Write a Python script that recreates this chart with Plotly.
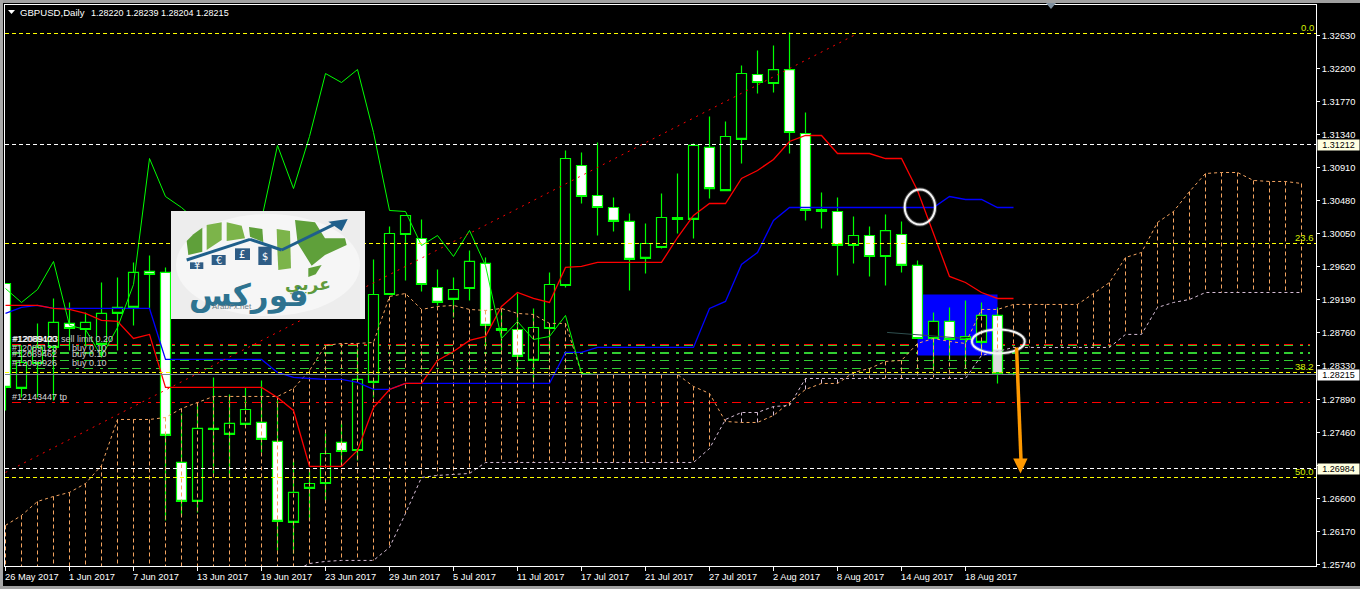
import plotly.graph_objects as go

# ---------- chart data (prices) ----------
OPEN = [1.29400,1.28033,1.28358,1.28567,1.28880,1.28801,1.28606,1.29010,1.29088,1.29557,
1.29544,1.27069,1.26561,1.27512,1.27434,1.27564,1.27590,1.27343,1.26288,1.26731,
1.26795,1.27330,1.27225,1.28111,1.29257,1.30038,1.29986,1.29348,1.29192,1.29335,
1.29661,1.28814,1.28801,1.28398,1.28814,1.29374,1.30937,1.30546,1.30390,1.30208,
1.29726,1.29869,1.30260,1.30234,1.31172,1.30611,1.31276,1.32122,1.32005,1.32187,
1.31354,1.30364,1.30338,1.29895,1.30025,1.29752,1.30038,1.29635,1.28684,1.28906,
1.28671,1.28632,1.28984,1.28220]
HIGH = [1.29400,1.28593,1.28880,1.29205,1.29153,1.29023,1.29413,1.29479,1.29674,1.29765,
1.29609,1.27707,1.27850,1.28176,1.27955,1.28046,1.28137,1.27876,1.27095,1.26965,
1.27447,1.27577,1.28554,1.29713,1.30143,1.30286,1.30234,1.29583,1.29479,1.29830,
1.29739,1.29075,1.29270,1.29075,1.29544,1.31132,1.31106,1.31237,1.30520,1.30312,
1.30182,1.30572,1.30833,1.31224,1.31575,1.31510,1.32239,1.32435,1.32500,1.32669,
1.31627,1.30585,1.30520,1.30273,1.30143,1.30299,1.30208,1.29700,1.29023,1.29088,
1.29179,1.29153,1.29088,1.28239]
LOW = [1.27746,1.27916,1.27916,1.27876,1.28528,1.28593,1.28437,1.28528,1.28854,1.29075,
1.26314,1.26379,1.26418,1.26926,1.26874,1.27551,1.27199,1.25923,1.25884,1.26314,
1.26574,1.27030,1.27095,1.27916,1.29257,1.29440,1.29296,1.29114,1.28958,1.29179,
1.28567,1.28528,1.28267,1.28111,1.28528,1.29348,1.30442,1.30025,1.30077,1.29309,
1.29531,1.29856,1.30051,1.29986,1.30507,1.30611,1.30963,1.31875,1.31888,1.31093,
1.30221,1.30116,1.29505,1.29661,1.29492,1.29374,1.29544,1.28684,1.28267,1.28398,
1.28293,1.28528,1.28098,1.28204]
CLOSE = [1.28046,1.28371,1.28567,1.28893,1.28814,1.28893,1.29010,1.29088,1.29544,1.29518,
1.27421,1.26561,1.27512,1.27499,1.27577,1.27759,1.27369,1.26301,1.26679,1.26795,
1.27186,1.27212,1.28150,1.29257,1.30051,1.30286,1.29387,1.29153,1.29322,1.29687,
1.28854,1.28788,1.28450,1.28827,1.29387,1.31028,1.30533,1.30390,1.30208,1.29713,
1.29921,1.30260,1.30234,1.31198,1.30637,1.31315,1.32135,1.32018,1.32187,1.31367,
1.30351,1.30338,1.29895,1.30025,1.29752,1.30090,1.29635,1.28684,1.28906,1.28671,
1.28710,1.28984,1.28228,1.28215]

TENKAN = [1.29114,1.29114,1.29114,1.29075,1.29062,1.29010,1.28919,1.28906,1.28684,1.28737,
1.28046,1.28046,1.28046,1.28046,1.28046,1.28046,1.28046,1.27916,1.27746,1.27017,
1.27017,1.27017,1.27225,1.27785,1.28020,1.28098,1.28098,1.28398,1.28515,1.28658,
1.28710,1.29101,1.29283,1.29205,1.29153,1.29609,1.29622,1.29674,1.29674,1.29674,
1.29674,1.29674,1.29999,1.30286,1.30442,1.30442,1.30768,1.30872,1.31015,1.31250,
1.31328,1.31328,1.31093,1.31093,1.31093,1.31028,1.31028,1.30611,1.30051,1.29492,
1.29413,1.29283,1.29205,1.29205]
KIJUN = [1.29010,1.29088,1.29114,1.29075,1.29075,1.29075,1.29075,1.29075,1.29075,1.29075,
1.28411,1.28411,1.28411,1.28411,1.28411,1.28411,1.28411,1.28241,1.28176,1.28163,
1.28150,1.28150,1.28111,1.28020,1.28020,1.28098,1.28098,1.28098,1.28098,1.28098,
1.28098,1.28098,1.28098,1.28098,1.28098,1.28502,1.28502,1.28567,1.28567,1.28567,
1.28567,1.28567,1.28567,1.28567,1.29075,1.29166,1.29648,1.29804,1.30221,1.30390,
1.30390,1.30390,1.30390,1.30390,1.30390,1.30390,1.30390,1.30390,1.30390,1.30533,
1.30494,1.30494,1.30390,1.30390]
CHIKOU = [1.29335,1.29153,1.29322,1.29687,1.28854,1.28801,1.28450,1.28827,1.29387,1.31028,
1.30533,1.30390,1.30208,1.29713,1.29921,1.30260,1.30234,1.31198,1.30637,1.31315,
1.32135,1.32018,1.32187,1.31367,1.30351,1.30338,1.29895,1.30025,1.29752,1.30090,
1.29635,1.28684,1.28906,1.28671,1.28710,1.28984,1.28228,1.28215]
SENKOU_A = [1.26249,1.26379,1.26561,1.26626,1.26679,1.26795,1.27030,1.27629,1.27629,1.27629,
1.27655,1.27772,1.27850,1.27929,1.27929,1.27929,1.27929,1.27929,1.28033,1.28267,
1.28593,1.28619,1.28619,1.28632,1.29231,1.29270,1.29062,1.29101,1.29114,1.29062,
1.29049,1.29075,1.29010,1.28997,1.28880,1.28880,1.28228,1.28215,1.28215,1.28215,
1.28215,1.28215,1.28215,1.28059,1.27968,1.27603,1.27590,1.27590,1.27681,1.27850,
1.28020,1.28098,1.28098,1.28241,1.28293,1.28385,1.28398,1.28619,1.28684,1.28645,
1.28619,1.29062,1.29062,1.29127,1.29127,1.29127,1.29127,1.29127,1.29270,1.29413,
1.29739,1.29804,1.30195,1.30338,1.30598,1.30833,1.30846,1.30846,1.30742,1.30729,
1.30729,1.30703]
SENKOU_B = [1.25650,1.25650,1.25650,1.25650,1.25650,1.25650,1.25650,1.25650,1.25650,1.25650,
1.25650,1.25650,1.25650,1.25650,1.25650,1.25650,1.25650,1.25650,1.25650,1.25753,
1.25780,1.25793,1.25793,1.25793,1.25962,1.26405,1.26874,1.26900,1.26913,1.26926,
1.27069,1.27069,1.27069,1.27069,1.27069,1.27069,1.27069,1.27069,1.27069,1.27069,
1.27069,1.27069,1.27069,1.27069,1.27251,1.27629,1.27720,1.27720,1.27798,1.27811,
1.28163,1.28163,1.28163,1.28163,1.28163,1.28163,1.28163,1.28163,1.28163,1.28163,
1.28163,1.28463,1.28515,1.28567,1.28567,1.28567,1.28567,1.28567,1.28567,1.28567,
1.28737,1.28737,1.29088,1.29153,1.29192,1.29283,1.29283,1.29283,1.29283,1.29283,
1.29283,1.29283]

TREND_X = [0, 53.25]
TREND_Y = [1.26939, 1.32656]
FIBO_LEVELS = [1.326563, 1.299210, 1.282408, 1.268732]
FIBO_NAMES = ["0.0", "23.6", "38.2", "50.0"]
ALERT_LEVELS = [1.312105, 1.269904]
ALERT_NAMES = [1.31212, 1.26984]
ORDER_RED = [1.286055, 1.278501]
ORDER_GREEN = [1.285925, 1.285013, 1.284883, 1.283971, 1.282929]
BID = 1.282148
LAST = 1.28215
ZONE_X = [57, 62]
ZONE_Y = [1.28463, 1.29257]
DARK_X = [55.1, 60]
DARK_Y = [1.28763, 1.28684]
ARROW_X = [63.19, 63.47]
ARROW_Y = [1.28567, 1.27095]

PRICE_TICKS = [1.32630,1.32200,1.31770,1.31340,1.30910,1.30480,1.30050,1.29620,1.29190,
               1.28760,1.28330,1.27890,1.27460,1.27030,1.26600,1.26170,1.25740]
PRICE_TICK_TEXT = ["1.32630","1.32200","1.31770","1.31340","1.30910","1.30480","1.30050","1.29620","1.29190",
                   "1.28760","1.28330","1.27890","1.27460","","1.26600","1.26170","1.25740"]
DATE_POS = [0,4,8,12,16,20,24,28,32,36,40,44,48,52,56,60]
DATE_LABELS = ["26 May 2017","1 Jun 2017","7 Jun 2017","13 Jun 2017","19 Jun 2017","23 Jun 2017",
               "29 Jun 2017","5 Jul 2017","11 Jul 2017","17 Jul 2017","21 Jul 2017","27 Jul 2017",
               "2 Aug 2017","8 Aug 2017","14 Aug 2017","18 Aug 2017"]

W, H = 1360, 589
ML, MR, MT, MB = 5, 44, 5, 23
PW, PH = W - ML - MR, H - MT - MB
FONT = "Liberation Sans"
GREEN = "#00FF00"
ORANGE = "#F4A460"
THISTLE = "#D8BFD8"
YELLOW = "#FFFF00"
LIME = "#32CD32"

def PX(p): return (p - ML) / PW
def PY(p): return 1 - (p - MT) / PH

idx = list(range(len(OPEN)))
XEND = 81.906
fig = go.Figure()

# candles: bullish bodies black, bearish bodies white, outlines and wicks green
for is_up, fill in [(True, "#000000"), (False, "#FFFFFF")]:
    ks = [k for k in idx if (CLOSE[k] > OPEN[k]) == is_up]
    tops = [max(OPEN[k], CLOSE[k]) for k in ks]
    bots = [min(OPEN[k], CLOSE[k]) for k in ks]
    fig.add_trace(go.Box(x=ks, q1=bots, median=bots, q3=tops,
                         lowerfence=[LOW[k] for k in ks], upperfence=[HIGH[k] for k in ks],
                         width=0.625, whiskerwidth=0, fillcolor=fill, boxpoints=False,
                         line=dict(color=GREEN, width=1.2), hoverinfo="skip", showlegend=False))

# cloud hatching
hx_o, hy_o, hx_t, hy_t = [], [], [], []
for k, (a, b) in enumerate(zip(SENKOU_A, SENKOU_B)):
    if a >= b:
        hx_o += [k, k, None]; hy_o += [a, b, None]
    else:
        hx_t += [k, k, None]; hy_t += [a, b, None]
fig.add_trace(go.Scatter(x=hx_o, y=hy_o, mode="lines", line=dict(color=ORANGE, width=1, dash="4px,3px")))
fig.add_trace(go.Scatter(x=hx_t, y=hy_t, mode="lines", line=dict(color=THISTLE, width=1, dash="4px,3px")))
xcloud = list(range(len(SENKOU_A)))
fig.add_trace(go.Scatter(x=xcloud, y=SENKOU_A, mode="lines", line=dict(color=ORANGE, width=1, dash="3px,3px")))
fig.add_trace(go.Scatter(x=xcloud, y=SENKOU_B, mode="lines", line=dict(color=THISTLE, width=1, dash="3px,3px")))

fig.add_trace(go.Scatter(x=DARK_X, y=DARK_Y, mode="lines", line=dict(color="#2F4F4F", width=1)))
fig.add_trace(go.Scatter(x=idx, y=KIJUN, mode="lines", line=dict(color="#0000FF", width=1.3)))
fig.add_trace(go.Scatter(x=idx, y=TENKAN, mode="lines", line=dict(color="#FF0000", width=1.3)))
fig.add_trace(go.Scatter(x=list(range(len(CHIKOU))), y=CHIKOU, mode="lines", line=dict(color=GREEN, width=1)))
fig.add_trace(go.Scatter(x=TREND_X, y=TREND_Y, mode="lines", line=dict(color="#FF0000", width=1, dash="2px,5px")))

# horizontal levels across the chart
xr = [-0.03, XEND]
fig.add_trace(go.Scatter(x=xr, y=[BID, BID], mode="lines", line=dict(color="#778899", width=1)))
for lv in FIBO_LEVELS:
    fig.add_trace(go.Scatter(x=xr, y=[lv, lv], mode="lines", line=dict(color=YELLOW, width=1, dash="4px,3px")))
for lv in ALERT_LEVELS:
    fig.add_trace(go.Scatter(x=xr, y=[lv, lv], mode="lines", line=dict(color="#FFFFFF", width=1, dash="4px,3px")))

shapes = []
# order lines and zone sit beneath the candles
shapes.append(dict(type="rect", layer="below", xref="x", yref="y", x0=ZONE_X[0], x1=ZONE_X[1],
                   y0=ZONE_Y[0], y1=ZONE_Y[1], fillcolor="#0000FF", line=dict(width=0)))
for lv in ORDER_GREEN:
    shapes.append(dict(type="line", layer="below", xref="paper", yref="y", x0=PX(12), x1=PX(1310), y0=lv, y1=lv,
                       line=dict(color=LIME, width=1, dash="9px,7px,3px,5px")))
for lv in ORDER_RED:
    shapes.append(dict(type="line", layer="below", xref="paper", yref="y", x0=PX(12), x1=PX(1310), y0=lv, y1=lv,
                       line=dict(color="#FF0000", width=1, dash="9px,7px,3px,5px")))

# hand-drawn annotations on the chart
shapes.append(dict(type="rect", xref="x", yref="y", x0=61.7, x1=62.3, y0=1.28190, y1=1.28540,
                   fillcolor="rgba(0,0,0,0.14)", line=dict(width=0)))
for (x0, x1, y0, y1) in [(56.2, 58.1, 1.30169, 1.30625), (60.4, 63.7, 1.28489, 1.28801)]:
    shapes.append(dict(type="circle", xref="x", yref="y", x0=x0, x1=x1, y0=y0, y1=y1,
                       line=dict(color="rgba(255,255,255,0.25)", width=4)))
    shapes.append(dict(type="circle", xref="x", yref="y", x0=x0, x1=x1, y0=y0, y1=y1,
                       line=dict(color="#F4F4F4", width=2)))
shapes.append(dict(type="line", xref="x", yref="y", x0=ARROW_X[0], x1=ARROW_X[1], y0=ARROW_Y[0], y1=ARROW_Y[1],
                   line=dict(color="#FF9900", width=3.5)))
shapes.append(dict(type="path", xref="x", yref="y", fillcolor="#FF9900", line=dict(width=0),
                   path="M 62.98 1.27121 L 63.88 1.27121 L 63.44 1.26926 Z"))

# window furniture
def rect_px(x0, y0, x1, y1, color, **kw):
    return dict(type="rect", xref="paper", yref="paper", x0=PX(x0), x1=PX(x1), y0=PY(y0), y1=PY(y1),
                fillcolor=color, line=dict(width=0), **kw)
def poly(points, color, zoomed=True):
    pts = [(165 + a / 3, 205 + b / 3) if zoomed else (a, b) for a, b in points]
    d = "M " + " L ".join(f"{PX(a):.5f} {PY(b):.5f}" for a, b in pts) + " Z"
    return dict(type="path", xref="paper", yref="paper", path=d, fillcolor=color, line=dict(width=0))

shapes.append(rect_px(0, 0, W, 3, "#A0A0A0"))
shapes.append(rect_px(0, 0, 3, H, "#A8A8A8"))
shapes.append(rect_px(0, 586, W, H, "#A0A0A0"))
shapes.append(poly([(1046, 3), (1056, 3), (1051, 9)], "#7F90A0", zoomed=False))
shapes.append(poly([(8, 10), (15, 10), (11.5, 14)], "#FFFFFF", zoomed=False))

# logo
shapes.append(rect_px(171, 211, 365, 319, "#EDEDED"))
shapes.append(dict(type="circle", xref="paper", yref="paper", x0=PX(176), x1=PX(360), y0=PY(214), y1=PY(316),
                   fillcolor="#F6F6F6", line=dict(width=0)))
G1, G2 = "#7CB44A", "#5FA03A"
for pts, col in [
    ([(65, 108), (85, 88), (112, 68), (112, 140), (70, 150)], G2),
    ([(125, 60), (170, 52), (170, 105), (125, 135)], G1),
    ([(185, 52), (230, 62), (240, 100), (185, 108)], G1),
    ([(252, 66), (292, 72), (295, 112), (255, 95)], G2),
    ([(335, 72), (375, 78), (378, 190), (340, 195), (337, 135)], G1),
    ([(390, 45), (450, 52), (480, 100), (540, 100), (545, 120), (480, 150), (440, 182), (398, 115)], G2),
    ([(430, 190), (470, 180), (452, 208), (430, 216)], G2),
]:
    shapes.append(poly(pts, col))
for (a, b, c, d) in [(75, 172, 115, 192), (140, 150, 182, 180), (210, 130, 255, 165), (280, 125, 320, 180)]:
    shapes.append(poly([(a, b), (c, b), (c, d), (a, d)], "#2E5C85"))
for p0, p1 in [((65, 165), (255, 103)), ((255, 103), (350, 135)), ((350, 135), (520, 52))]:
    shapes.append(dict(type="line", xref="paper", yref="paper",
                       x0=PX(165 + p0[0] / 3), y0=PY(205 + p0[1] / 3), x1=PX(165 + p1[0] / 3), y1=PY(205 + p1[1] / 3),
                       line=dict(color="#1F5F8B", width=3)))
shapes.append(poly([(490, 50), (548, 42), (530, 78)], "#1F5F8B"))

annos = []
def ann(px, py, text, color="#FFFFFF", size=9, xanchor="left", family=FONT, **kw):
    annos.append(dict(xref="paper", yref="paper", x=PX(px), y=PY(py), text=text, showarrow=False, borderpad=0,
                      xanchor=xanchor, yanchor="middle", font=dict(family=family, size=size, color=color), **kw))

ann(19, 12.5, "GBPUSD,Daily", size=9.6)
ann(89.5, 12.5, "1.28220 1.28239 1.28204 1.28215", size=9)

for pos, lab in zip(DATE_POS, DATE_LABELS):
    annos.append(dict(xref="x", yref="paper", x=pos, y=PY(576.5), text=lab, showarrow=False, xanchor="left", xshift=-2,
                      yanchor="middle", borderpad=0, font=dict(family=FONT, size=9.3, color="#FFFFFF")))

# fibo level names
for lv, nm in zip(FIBO_LEVELS, FIBO_NAMES):
    annos.append(dict(xref="paper", yref="y", x=PX(1315), y=lv, yshift=6, text=nm, showarrow=False, xanchor="right",
                      yanchor="middle", borderpad=0, font=dict(family=FONT, size=9.5, color="#D8EE00")))

# price flags
for val, pos, bg in [(ALERT_NAMES[0], ALERT_LEVELS[0], "#FFFFE0"), (ALERT_NAMES[1], ALERT_LEVELS[1], "#FFFFE0"), (LAST, BID, "#FFFFFF")]:
    annos.append(dict(xref="paper", yref="y", x=1, xshift=1, y=pos, text=f"{val:.5f}", showarrow=False, xanchor="left",
                      yanchor="middle", width=41, height=10, bgcolor=bg, borderpad=0, align="center",
                      font=dict(family=FONT, size=9, color="#000000")))

# order tickets
ann(11, 338.5, "#12089400", "#FFFFFF")
ann(11.5, 338.5, "#12089123", "#FFFFFF")
ann(60, 338.5, "sell limit 0.20", "#C8C8C8")
ann(11, 348, "#12089123      buy 0.10", "#D0D0D0")
ann(11, 354, "#12089462      buy 0.10", "#D0D0D0")
ann(11, 363, "#12030926      buy 0.10", "#D0D0D0")
ann(11, 397, "#12143447 tp", "#D8D8D8")

# logo text
for sym, zx, zy in [("¥", 95, 182), ("€", 161, 165), ("£", 232, 148), ("$", 300, 155)]:
    ann(165 + zx / 3, 205 + zy / 3, sym, "#FFFFFF", size=10, xanchor="center", family="DejaVu Sans")
ann(165 + 430 / 3, 205 + 238 / 3, "<b>عربي</b>", "#5E9A3C", size=17, xanchor="center", family="DejaVu Sans")
ann(165 + 250 / 3, 205 + 272 / 3, "<b>فوركس</b>", "#2E7390", size=31, xanchor="center", family="DejaVu Sans")
ann(165 + 200 / 3, 205 + 304 / 3, "ArabFx.net", "#6E7E86", size=8, xanchor="center")

fig.update_layout(
    width=W, height=H, autosize=False,
    margin=dict(l=ML, r=MR, t=MT, b=MB, pad=0),
    paper_bgcolor="#000000", plot_bgcolor="#000000",
    showlegend=False, boxmode="overlay", hovermode=False,
    shapes=shapes, annotations=annos,
    xaxis=dict(range=[-0.03125, XEND], showgrid=False, zeroline=False,
               tickmode="array", tickvals=DATE_POS, showticklabels=False, ticks="outside", ticklen=4,
               tickcolor="#FFFFFF", tickwidth=1, showline=True, linecolor="#FFFFFF", linewidth=1, mirror=True),
    yaxis=dict(range=[1.257205, 1.330275], side="right", showgrid=False, zeroline=False,
               tickmode="array", tickvals=PRICE_TICKS, ticktext=PRICE_TICK_TEXT,
               ticks="outside", ticklen=3, tickcolor="#FFFFFF", tickwidth=1,
               tickfont=dict(family=FONT, size=9.3, color="#FFFFFF"),
               showline=True, linecolor="#FFFFFF", linewidth=1, mirror=True),
)

fig.write_html("out.html", config={"displayModeBar": False},
               post_script="document.body.style.margin='0';document.documentElement.style.overflow='hidden';")
